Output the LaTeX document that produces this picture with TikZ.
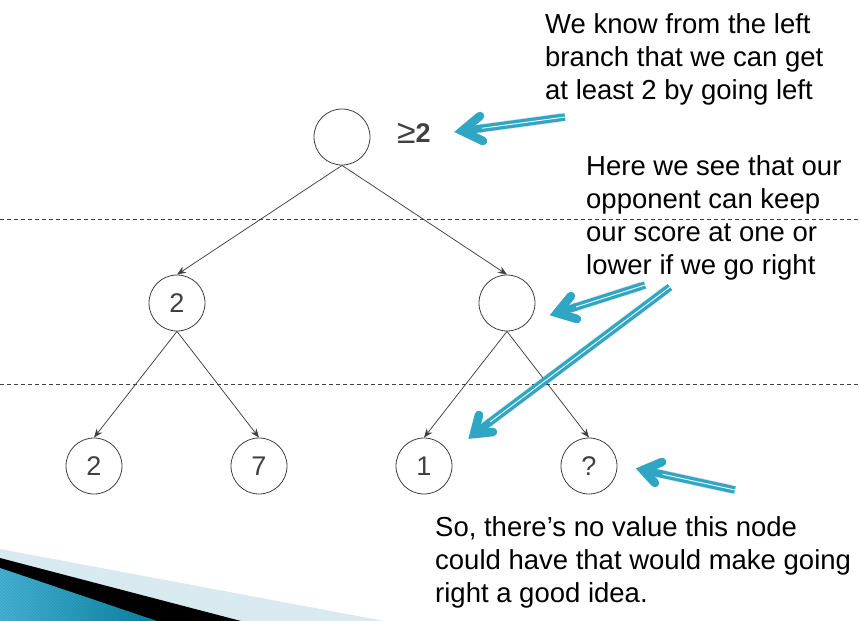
\documentclass[tikz,border=0pt]{standalone}
\usepackage{fontspec}
\setmainfont{Liberation Sans}
\usetikzlibrary{arrows.meta,calc,patterns}
\definecolor{ink}{HTML}{404040}
\definecolor{callout}{HTML}{2EA6C4}
\definecolor{bandlight}{HTML}{D8E9F0}
\definecolor{banddark}{HTML}{0A7E9E}
\definecolor{bandbright}{HTML}{4AB3D5}
\tikzset{
  treenode/.style={circle, draw=ink, line width=0.8pt, fill=white, minimum size=56pt, inner sep=0pt,
    text=ink, font=\fontsize{27}{32}\selectfont},
  treeedge/.style={draw=ink, line width=0.75pt, -{Stealth[length=9pt,width=7pt]}},
  levelline/.style={draw=ink, line width=0.7pt, dash pattern=on 4pt off 3pt},
  note/.style={anchor=north west, inner sep=0pt, align=left, text=black,
    font=\fontsize{27.5}{33}\selectfont},
  shaftline/.style={draw=callout, line width=3.3pt, double=white, double distance=0.9pt},
  headline/.style={draw=callout, line width=8.5pt, line cap=round, line join=miter},
  shadowline/.style={draw=black, opacity=0.10, line width=9pt, line cap=butt, line join=round}
}
\newcommand{\calloutarrow}[4]{%
  % #1 tail, #2 vertex, #3 arm one, #4 arm two
  \draw[shadowline, shift={(2,4)}] ($(#1)!4pt!(#2)$) -- (#2) (#3) -- (#2) -- (#4);
  \draw[shaftline] (#1) -- ($(#2)!18pt!(#1)$);
  \draw[draw=callout, line width=7.5pt] ($(#2)!20pt!(#1)$) -- (#2);
  \draw[headline] (#3) -- (#2) -- (#4);
}
\begin{document}
\begin{tikzpicture}[x=1pt,y=-1pt]
\useasboundingbox (0,0) rectangle (860,621);
\fill[white] (0,0) rectangle (860,621);

% bottom-left decoration
\fill[bandlight] (0,549) -- (384,621) -- (0,621) -- cycle;
\fill[black] (0,558) -- (241,621) -- (0,621) -- cycle;
\shade[left color=bandbright, right color=banddark] (0,568) -- (157,621) -- (0,621) -- cycle;
\fill[pattern=north west lines, pattern color=banddark, opacity=0.35] (0,568) -- (157,621) -- (0,621) -- cycle;

% level separators
\coordinate (sepAL) at (0,219);
\coordinate (sepAR) at (860,219);
\coordinate (sepBL) at (0,384);
\coordinate (sepBR) at (860,384);
\draw[levelline] (sepAL) -- (sepAR);
\draw[levelline] (sepBL) -- (sepBR);

% tree
\node[treenode] (root) at (342,137) {};
\node[treenode] (lm) at (177,303) {2};
\node[treenode] (rm) at (507,303) {};
\node[treenode] (l1) at (94,466) {2};
\node[treenode] (l2) at (259,466) {7};
\node[treenode] (l3) at (424,466) {1};
\node[treenode] (l4) at (589,466) {?};

\draw[treeedge] (root.south) -- (lm.north);
\draw[treeedge] (root.south) -- (rm.north);
\draw[treeedge] (lm.south) -- (l1.north);
\draw[treeedge] (lm.south) -- (l2.north);
\draw[treeedge] (rm.south) -- (l3.north);
\draw[treeedge] (rm.south) -- (l4.north);

\node[anchor=west, inner sep=0pt, text=ink, font=\fontsize{27}{32}\selectfont] (bound) at (397,133) {\raisebox{-1pt}{\scalebox{1.25}{≥}}\textbf{2}};

% notes
\node[note] (n1) at (545,13.3) {We know from the left\\branch that we can get\\at least 2 by going left};
\node[note] (n2) at (586,155.3) {Here we see that our\\opponent can keep\\our score at one or\\lower if we go right};
\node[note] (n3) at (435,516.3) {So, there’s no value this node\\could have that would make going\\right a good idea.};

% callout arrows
\coordinate (a1t) at (565,117); \coordinate (a1v) at (462,131);
\coordinate (a1p) at (480,116); \coordinate (a1q) at (483,141);
\coordinate (a2t) at (645,285); \coordinate (a2v) at (557,313);
\coordinate (a2p) at (571,296); \coordinate (a2q) at (577,319);
\coordinate (a3t) at (670,287); \coordinate (a3v) at (474,434);
\coordinate (a3p) at (479,415); \coordinate (a3q) at (493,432);
\coordinate (a4t) at (735,490); \coordinate (a4v) at (643,470);
\coordinate (a4p) at (662,462); \coordinate (a4q) at (655,483);
\calloutarrow{a1t}{a1v}{a1p}{a1q}
\calloutarrow{a2t}{a2v}{a2p}{a2q}
\calloutarrow{a3t}{a3v}{a3p}{a3q}
\calloutarrow{a4t}{a4v}{a4p}{a4q}
\end{tikzpicture}
\end{document}
